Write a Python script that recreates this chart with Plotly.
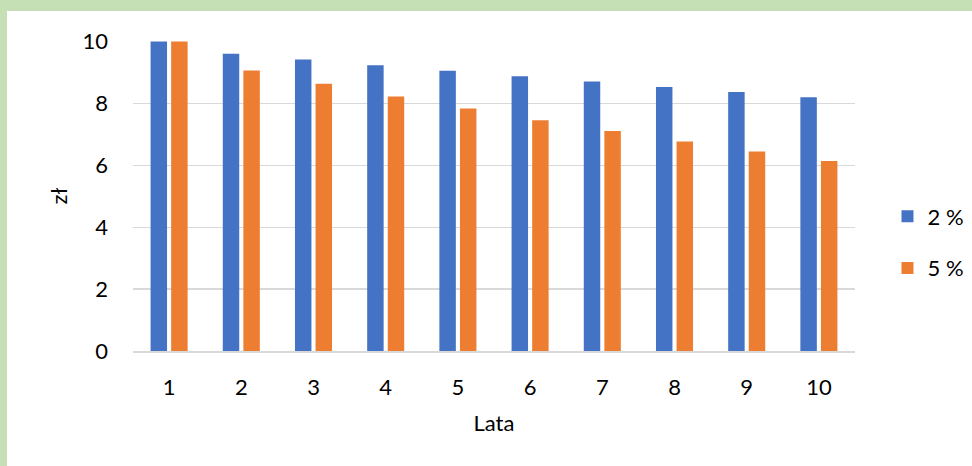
import plotly.graph_objects as go

# Value of 10 zł over the years at two inflation rates
years = ["1", "2", "3", "4", "5", "6", "7", "8", "9", "10"]
rate_2 = [10.00, 9.61, 9.42, 9.24, 9.06, 8.88, 8.71, 8.53, 8.37, 8.20]
rate_5 = [10.00, 9.07, 8.64, 8.23, 7.84, 7.46, 7.11, 6.77, 6.45, 6.14]
series_names = ["2 %", "5 %"]
y_ticks = [0, 2, 4, 6, 8, 10]

BLUE = "#4472C4"
ORANGE = "#ED7D31"
GRID = "#D9D9D9"
FONT = "Lato"

fig = go.Figure()
fig.add_trace(go.Bar(x=years, y=rate_2, name=series_names[0], marker_color=BLUE,
                     marker_line_width=0, legendgroup="a"))
fig.add_trace(go.Bar(x=years, y=rate_5, name=series_names[1], marker_color=ORANGE,
                     marker_line_width=0, legendgroup="b"))

W, H = 972, 466
L, R, T, B = 133, 117, 41, 115
pw, ph = W - L - R, H - T - B

# white card on a light green page
fig.add_shape(type="rect", xref="paper", yref="paper",
              x0=(7 - L) / pw, x1=(W + 20 - L) / pw,
              y0=-(H + 20 - (H - B)) / ph, y1=((H - B) - 11) / ph,
              fillcolor="white", line_width=0, layer="below")

fig.update_layout(
    width=W, height=H,
    margin=dict(l=L, r=R, t=T, b=B, pad=0, autoexpand=False),
    paper_bgcolor="#C5E0B4",
    plot_bgcolor="white",
    barmode="group",
    bargap=0.43,
    bargroupgap=0.2,
    font=dict(family=FONT, size=22, color="#000000"),
    showlegend=True,
    legend=dict(x=1.045, y=0.35, xanchor="left", yanchor="middle",
                font=dict(size=22), tracegroupgap=20,
                bgcolor="rgba(0,0,0,0)", itemwidth=30),
    xaxis=dict(type="category", showgrid=False, showline=True, linecolor=GRID,
               linewidth=1.5, ticks="", ticklabelstandoff=16,
               title=dict(text="Lata", standoff=16, font=dict(size=22))),
    yaxis=dict(range=[0, 10.02], tickvals=y_ticks, showgrid=True, gridcolor=GRID,
               gridwidth=1.5, zeroline=False, ticks="", ticklabelstandoff=24,
               title=dict(text="zł", standoff=8, font=dict(size=22))),
)

fig.write_html("out.html", config={"displayModeBar": False, "staticPlot": True})
